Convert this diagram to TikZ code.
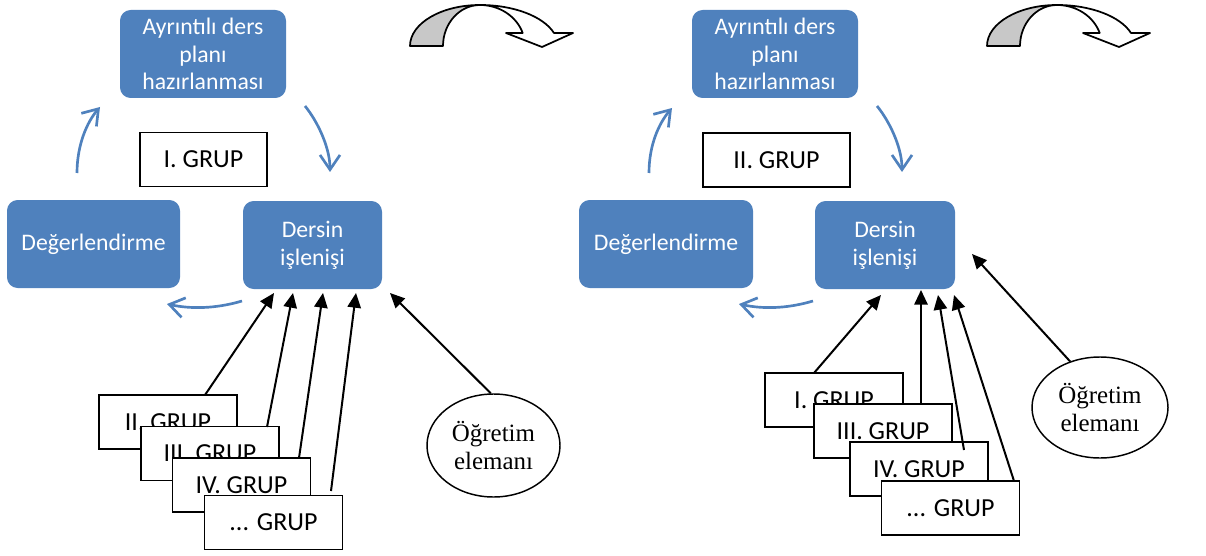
\documentclass[tikz,border=0pt]{standalone}
\usepackage{fontspec}
\newfontfamily\carlito{Carlito}
\newfontfamily\lserif{Liberation Serif}
\usetikzlibrary{arrows.meta,shapes.geometric}
\definecolor{sblue}{HTML}{4F81BD}
\definecolor{cgray}{HTML}{C8C8C8}
\begin{document}
\begin{tikzpicture}[x=0.75pt,y=-0.75pt,
 bluebox/.style={fill=sblue, rounded corners=8pt, text=white, font=\carlito\fontsize{17.8}{20.8}\selectfont, align=center, inner sep=0pt, minimum height=66pt},
 grpbox/.style={draw=black, fill=white, line width=1.2pt, font=\carlito\fontsize{19.5}{22}\selectfont, inner sep=0pt, minimum height=40.5pt},
 teacher/.style={ellipse, draw=black, line width=1.1pt, fill=white, font=\lserif\fontsize{18.7}{21}\selectfont, align=center, inner sep=0pt},
 cyc/.style={draw=sblue, line width=2pt, -{Straight Barb[length=11pt,width=15pt]}},
 inp/.style={draw=black, line width=1.5pt, -{Triangle[length=11pt,width=10pt]}},
 bendarrow/.style={draw=black, line width=1.3pt, line join=round}
]
\useasboundingbox (0,0) rectangle (1206,556);

% curved arrows at the top
\foreach \dx in {0,577} {
 \begin{scope}[shift={(\dx,0)}]
  \filldraw[bendarrow, fill=cgray] (410,46) arc[start angle=180,end angle=270,x radius=70,y radius=41]
     arc[start angle=-90,end angle=-180,x radius=37,y radius=41] -- cycle;
  \filldraw[bendarrow, fill=white] (480,5) arc[start angle=-90,end angle=-18.5,x radius=78,y radius=41]
     -- (573,33) -- (542,47) -- (506,33) -- (522.7,33)
     arc[start angle=-18.5,end angle=-90,x radius=45,y radius=41] -- cycle;
 \end{scope}
}

% ---------- left diagram ----------
\node[bluebox, minimum width=124.5pt] (planL) at (203,54) {Ayrıntılı ders\\planı\\hazırlanması};
\node[bluebox, minimum width=129.75pt] (degL) at (93.5,244) {Değerlendirme};
\node[bluebox, minimum width=104.25pt] (dersL) at (312.5,245) {Dersin\\işlenişi};
\node[grpbox, minimum width=95.25pt] (g1L) at (203.5,159.5) {I. GRUP};

\draw[cyc] (77,173) .. controls (77,145) and (87,122) .. (100,107);
\draw[cyc] (305,106) .. controls (318,122) and (330,148) .. (330,172);
\draw[cyc] (242,301) .. controls (215,309) and (190,309) .. (167,304);

\node[grpbox, minimum width=103.5pt] (s2L) at (168,422) {II. GRUP};
\node[grpbox, minimum width=103.5pt] (s3L) at (210,453.5) {III. GRUP};
\node[grpbox, minimum width=103.5pt] (s4L) at (241.5,485) {IV. GRUP};
\node[grpbox, minimum width=103.5pt] (s5L) at (273.5,522.5) {... GRUP};
\node[teacher, minimum width=99.75pt, minimum height=77.25pt] (eL) at (493.5,445.5) {Öğretim\\elemanı};

\coordinate (a1s) at (205,395);  \coordinate (a1t) at (274,293);
\coordinate (a2s) at (267,427);  \coordinate (a2t) at (293,293);
\coordinate (a3s) at (299,458);  \coordinate (a3t) at (323,293);
\coordinate (a4s) at (331,491);  \coordinate (a4t) at (356,293);
\coordinate (a5t) at (390,293);
\draw[inp] (a1s) -- (a1t);
\draw[inp] (a2s) -- (a2t);
\draw[inp] (a3s) -- (a3t);
\draw[inp] (a4s) -- (a4t);
\draw[inp] (eL.93) -- (a5t);

% ---------- right diagram ----------
\node[bluebox, minimum width=124.5pt] (planR) at (775,54) {Ayrıntılı ders\\planı\\hazırlanması};
\node[bluebox, minimum width=130.5pt] (degR) at (666,244) {Değerlendirme};
\node[bluebox, minimum width=105pt] (dersR) at (885,245) {Dersin\\işlenişi};
\node[grpbox, minimum width=110.25pt] (g2R) at (776.5,160) {II. GRUP};

\draw[cyc] (649,173) .. controls (649,145) and (659,123) .. (672,108);
\draw[cyc] (877,106) .. controls (890,122) and (902,148) .. (902,172);
\draw[cyc] (813,301) .. controls (786,309) and (762,309) .. (739,304);

\node[grpbox, minimum width=103.5pt] (s1R) at (834,400) {I. GRUP};
\node[grpbox, minimum width=103.5pt] (s3R) at (883,431) {III. GRUP};
\node[grpbox, minimum width=103.5pt] (s4R) at (919,469) {IV. GRUP};
\node[grpbox, minimum width=103.5pt] (s5R) at (950.5,508) {... GRUP};
\node[teacher, minimum width=102pt, minimum height=75.75pt] (eR) at (1100,407.5) {Öğretim\\elemanı};

\coordinate (b1s) at (814,373);  \coordinate (b1t) at (881,295);
\coordinate (b3s) at (921,404);  \coordinate (b3t) at (921,290);
\coordinate (b4s) at (964,450);  \coordinate (b4t) at (938,295);
\coordinate (b5s) at (1014,481); \coordinate (b5t) at (954,295);
\coordinate (b6t) at (972,254);
\draw[inp] (b1s) -- (b1t);
\draw[inp] (b3s) -- (b3t);
\draw[inp] (b4s) -- (b4t);
\draw[inp] (b5s) -- (b5t);
\draw[inp] (eR.123) -- (b6t);
\end{tikzpicture}
\end{document}
